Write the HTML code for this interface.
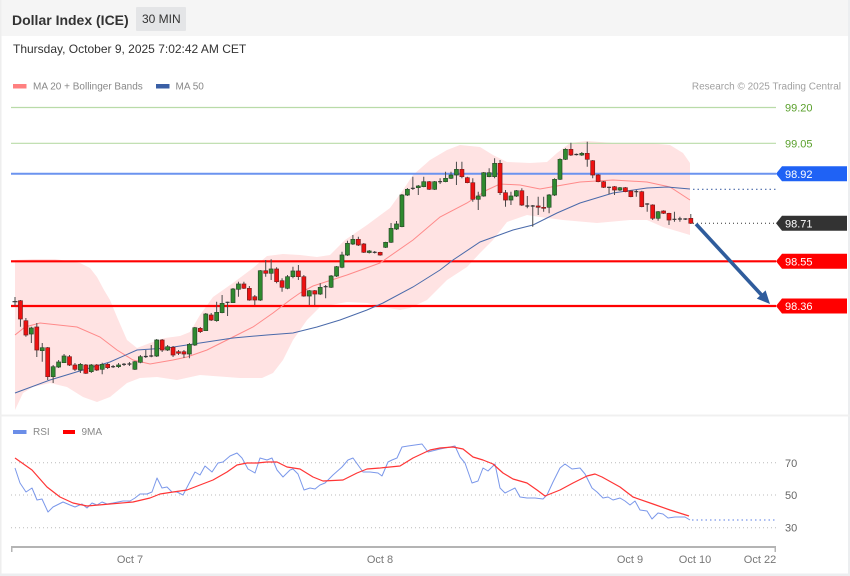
<!DOCTYPE html>
<html><head><meta charset="utf-8"><style>
html,body{margin:0;padding:0;background:#fff;}
svg{display:block;font-family:"Liberation Sans",Arial,sans-serif;}
</style></head><body>
<svg width="850" height="576" viewBox="0 0 850 576" xmlns="http://www.w3.org/2000/svg">
<rect x="0" y="0" width="850" height="576" fill="#fff"/>
<rect x="0" y="0" width="850" height="36" fill="#f5f5f5"/>
<rect x="0" y="0" width="1.5" height="576" fill="#eee"/>
<rect x="848" y="0" width="2" height="576" fill="#eceef0"/>
<rect x="0" y="573.5" width="850" height="2.5" fill="#eceef0"/>
<rect x="0" y="414.5" width="850" height="2" fill="#f0f0f0"/>

<text x="12" y="25" font-size="14" font-weight="bold" fill="#333">Dollar Index (ICE)</text>
<rect x="136" y="7" width="50" height="24" fill="#e4e5e7" rx="1"/>
<text x="142" y="23" font-size="12" fill="#333">30 MIN</text>
<text x="13" y="53" font-size="12" fill="#333">Thursday, October 9, 2025 7:02:42 AM CET</text>

<rect x="13" y="84" width="13.5" height="4.5" fill="#ff8080"/>
<text x="33" y="89.5" font-size="10" fill="#888">MA 20 + Bollinger Bands</text>
<rect x="156" y="84" width="13.5" height="4.5" fill="#3a5fa5"/>
<text x="175.5" y="89.5" font-size="10" fill="#888">MA 50</text>
<text x="841" y="89.5" font-size="10" fill="#a0a0a0" text-anchor="end">Research © 2025 Trading Central</text>

<!-- Bollinger band -->
<polygon fill="#ffe3e3" points="15,260 33,259 55,259 80,263 90,268 97,277 104,290 110,300 117,317 127,340 137,348 150,343 165,338 180,336 190,332 200,315 213,297 233,283 253,268 267,256 283,254 300,255 317,257 330,255 345,240 367,225 390,208 403,190 413,175 430,160 447,150 460,145 480,147 493,155 507,162 530,163 547,162 557,153 570,143 587,141 613,143 647,143 670,145 683,153 690,163 690,235 680,232 663,227 647,220 630,220 597,223 563,220 540,217 527,215 507,222 493,240 480,253 467,267 447,280 427,300 410,308 400,310 383,307 367,303 347,302 320,307 307,320 293,340 283,360 273,373 262,378 240,378 200,375 177,380 157,377 140,378 127,383 110,397 97,402 83,397 67,387 50,383 33,387 23,393 15,410"/>

<!-- horizontal levels -->
<line x1="11" y1="107.5" x2="776" y2="107.5" stroke="#b9dba8" stroke-width="1.2"/>
<line x1="11" y1="143.3" x2="776" y2="143.3" stroke="#b9dba8" stroke-width="1.2"/>
<line x1="11" y1="173.8" x2="776" y2="173.8" stroke="#6b93ef" stroke-width="2"/>
<line x1="11" y1="261.3" x2="776" y2="261.3" stroke="#ff0000" stroke-width="2.2"/>
<line x1="11" y1="306" x2="776" y2="306" stroke="#ff0000" stroke-width="2.2"/>
<line x1="693" y1="223.3" x2="776" y2="223.3" stroke="#333" stroke-width="1" stroke-dasharray="1 3"/>

<!-- MA20 -->
<polyline fill="none" stroke="#ff8a8a" stroke-width="1" points="15,335 25,327 40,323 77,327 100,337 117,350 133,360 150,364 173,360 187,357 207,350 233,337 253,327 273,313 290,300 300,293 313,286 347,275 380,263 413,240 440,217 467,203 487,190 500,184 520,185 540,189 557,186 580,182 613,180 647,182 670,187 690,200"/>
<!-- MA50 -->
<polyline fill="none" stroke="#4a6aaa" stroke-width="1" points="15,393 50,380 83,370 110,362 137,350 167,348 200,343 233,338 267,335 293,333 317,327 340,320 367,310 383,303 413,287 440,270 453,260 480,242 513,230 533,225 557,213 580,203 613,193 647,188 667,187 690,189"/>
<line x1="693" y1="189.3" x2="776" y2="189.3" stroke="#4a6aaa" stroke-width="1.2" stroke-dasharray="1.5 3"/>

<!-- wicks -->
<path fill="none" stroke="#4a4a4a" stroke-width="1" d="M15 297V306M20.45 300V326.7M25.9 318V336.7M31.35 326.7V343M36.8 323V357M42.25 343V361.7M47.7 347V380M53.15 365V383M58.6 360V368M64.05 354V363M69.5 355V366M74.95 363V371M80.4 363V373M85.85 364V374M91.3 364V373M96.75 364V371M102.2 362.7V374.3M107.65 363V369M113.1 365V368M118.55 363V368M124 363V366M129.45 362V366M134.9 361V370M140.35 355V363.3M145.8 350V358M151.25 345V357.3M156.7 339V357M162.15 339V352M167.6 345V351M173.05 346V357M178.5 350V355M183.95 350V358M189.4 343V358.3M194.85 327V346M200.3 327V333M205.75 313V331M211.2 313V321M216.65 301.7V321.7M222.1 295V313.3M227.55 301.7V316M233 288V303M238.45 281.7V296.7M243.9 281.7V289M249.35 286V300.7M254.8 295V305M260.25 270V301M265.7 260V276.7M271.15 259.3V280M276.6 267.3V283.3M282.05 278.3V291.7M287.5 275V289.3M292.95 266.7V278.3M298.4 265V280M303.85 275V296.7M309.3 290V305M314.75 290V305M320.2 283.3V295M325.65 285V298.3M331.1 275V288M336.55 266V277M342 251.7V268.3M347.45 240.7V256M352.9 235V245M358.35 236.7V246M363.8 243V253M369.25 250V253.5M374.7 251V253.5M380.15 251.7V255.7M385.6 241.7V248M391.05 223V243M396.5 221V230M401.95 194V227.3M407.4 188V196M412.85 176.7V190M418.3 185V195M423.75 176.7V187.3M429.2 181V190M434.65 181V190M440.1 178.3V184M445.55 171.7V182.3M451 171.7V179M456.45 161.7V185M461.9 161.7V178.3M467.35 176.7V183.3M472.8 178.3V201.7M478.25 191.7V210M483.7 172V196.7M489.15 168.3V177.3M494.6 158.3V178.3M500.05 160V195M505.5 190V206.7M510.95 191.7V205M516.4 190V197M521.85 188.3V206M527.3 196V208.3M532.75 205V226.7M538.2 196.7V215M543.65 196.7V211.7M549.1 194V213.3M554.55 178.3V196M560 158.3V180M565.45 148.3V160M570.9 142.7V156M576.35 153.5V155.5M581.8 152V156M587.25 141.7V166.7M592.7 160V178.3M598.15 174V182.3M603.6 181V188M609.05 186.7V194.3M614.5 186V195M619.95 187V191M625.4 187V192.3M630.85 190.3V197.3M636.3 190V196.7M641.75 190.7V207.3M647.2 203.3V211.7M652.65 204.3V220M658.1 211V220.7M663.55 210.3V214M669 212.7V225M674.45 211.7V221.7M679.9 216.7V221.7M685.35 218.3V220M690.8 214V224"/>

<!-- green bodies -->
<path fill="#2f8a2f" stroke="#2a4a2a" stroke-width="0.7" d="M29.35 328h4v6h-4zM40.25 347.7h4v3h-4zM51.15 366.7h4v10h-4zM56.6 362h4v5h-4zM62.05 356h4v6.7h-4zM78.4 364.3h4v5.7h-4zM89.3 365h4v6.7h-4zM100.2 364.3h4v5h-4zM116.55 365h4v1.7h-4zM132.9 361.7h4v7.6h-4zM138.35 356.7h4v5.6h-4zM154.7 340h4v16h-4zM165.6 346.7h4v3.3h-4zM187.4 344.3h4v9.7h-4zM192.85 327.7h4v17.3h-4zM203.75 314h4v16.7h-4zM214.65 312.3h4v8.4h-4zM220.1 303.3h4v9.4h-4zM231 289h4v13.7h-4zM236.45 284h4v5.3h-4zM258.25 270.7h4v29.3h-4zM269.15 269h4v4.3h-4zM285.5 276.7h4v11.6h-4zM290.95 271h4v5.7h-4zM307.3 290.7h4v5.3h-4zM318.2 287.3h4v6.7h-4zM329.1 276h4v11.3h-4zM334.55 266.7h4v9.3h-4zM340 255h4v12.3h-4zM345.45 243.3h4v11.7h-4zM350.9 239.3h4v4.7h-4zM367.25 251h4v1.5h-4zM383.6 242.3h4v5h-4zM389.05 228.3h4v14h-4zM394.5 224h4v5h-4zM399.95 195h4v31.7h-4zM405.4 189.3h4v5.7h-4zM416.3 186h4v1.7h-4zM421.75 181.7h4v5h-4zM432.65 181.7h4v7.6h-4zM443.55 178.3h4v3.4h-4zM449 175h4v3.3h-4zM454.45 169.3h4v5.7h-4zM476.25 196h4v3.3h-4zM481.7 172.7h4v23.3h-4zM487.15 172.7h4v4h-4zM492.6 163.3h4v13.4h-4zM508.95 196h4v4h-4zM514.4 190.7h4v5.3h-4zM547.1 195h4v12.3h-4zM552.55 179.3h4v15.7h-4zM558 159.3h4v20h-4zM563.45 149.3h4v10h-4zM579.8 153.3h4v1.7h-4zM617.95 187.7h4v2.3h-4zM656.1 211.7h4v6.6h-4z"/>

<!-- red bodies -->
<path fill="#ee1111" stroke="#7a2020" stroke-width="0.7" d="M18.45 300.7h4v18.3h-4zM23.9 320.7h4v14.3h-4zM34.8 327h4v23h-4zM45.7 347.7h4v29h-4zM67.5 356.7h4v8.3h-4zM72.95 365h4v4.3h-4zM83.85 365h4v8.3h-4zM94.75 365h4v5h-4zM105.65 364.3h4v3.4h-4zM160.15 340h4v10h-4zM171.05 347.3h4v7.7h-4zM176.5 351.7h4v1.6h-4zM181.95 351.7h4v2.3h-4zM198.3 328.3h4v3.4h-4zM209.2 315h4v5h-4zM241.9 284h4v4.3h-4zM247.35 288.3h4v11.7h-4zM252.8 296.7h4v3.3h-4zM263.7 270.7h4v2.6h-4zM274.6 269h4v12.7h-4zM280.05 280.7h4v6.6h-4zM296.4 271h4v5.7h-4zM301.85 276.7h4v19.3h-4zM312.75 290.7h4v3.3h-4zM356.35 239.3h4v5.7h-4zM361.8 244h4v8.3h-4zM378.15 252.3h4v2.7h-4zM427.2 181.7h4v7.6h-4zM459.9 169.3h4v7.4h-4zM465.35 177.7h4v5h-4zM470.8 182.7h4v16.6h-4zM498.05 163.3h4v29.4h-4zM503.5 192.7h4v7.3h-4zM519.85 190.7h4v14.3h-4zM536.2 206h4v1.3h-4zM541.65 207.3h4v1h-4zM568.9 149.3h4v5.7h-4zM585.25 153.3h4v6h-4zM590.7 160.7h4v14.3h-4zM596.15 175h4v6.7h-4zM601.6 181.7h4v5.6h-4zM612.5 186.7h4v3.3h-4zM623.4 187.7h4v4h-4zM628.85 191h4v5.7h-4zM639.75 191.7h4v15h-4zM650.65 205h4v13.3h-4zM661.55 211h4v2.3h-4zM667 213.3h4v6.7h-4zM688.8 218.3h4v5h-4z"/>

<!-- dojis -->
<path fill="none" stroke="#333" stroke-width="1.2" d="M12.5 301.7h5M111.1 366.7h4M122 364.3h4M127.45 364h4M143.8 356.5h4M149.25 356h4M225.55 302.3h4M323.65 286.7h4M372.7 252.3h4M410.85 188.3h4M438.1 181.7h4M525.3 206h4M530.75 206h4M574.35 154.5h4M607.05 187.3h4M634.3 191.7h4M645.2 204h4M672.45 219.3h4M677.9 219h4M683.35 219h4"/>

<!-- arrow -->
<line x1="696" y1="224" x2="762" y2="295.5" stroke="#2f5c9c" stroke-width="3.6"/>
<polygon points="770,304 756.8,298.6 765.6,290.4" fill="#2f5c9c"/>

<!-- price labels -->
<text x="785" y="111.5" font-size="11" fill="#5aa02c">99.20</text>
<text x="785" y="147.3" font-size="11" fill="#5aa02c">99.05</text>
<path d="M776 173.8L782 166.3H847V181.3H782Z" fill="#1f62f5"/>
<text x="785" y="177.8" font-size="11" fill="#fff">98.92</text>
<path d="M776 223.3L782 215.8H847V230.8H782Z" fill="#333"/>
<text x="785" y="227.3" font-size="11" fill="#fff">98.71</text>
<path d="M776 261.3L782 253.8H847V268.8H782Z" fill="#ff0000"/>
<text x="785" y="265.3" font-size="11" fill="#fff">98.55</text>
<path d="M776 306L782 298.5H847V313.5H782Z" fill="#ff0000"/>
<text x="785" y="310" font-size="11" fill="#fff">98.36</text>

<!-- RSI panel -->
<rect x="13" y="430" width="13.5" height="4" fill="#6b8ee8"/>
<text x="33" y="435" font-size="10" fill="#888">RSI</text>
<rect x="63" y="430" width="12" height="4" fill="#ff0000"/>
<text x="81.5" y="435" font-size="10" fill="#888">9MA</text>

<g stroke="#bbb" stroke-width="1" stroke-dasharray="1 3">
<line x1="11" y1="462.7" x2="776" y2="462.7"/>
<line x1="11" y1="495" x2="776" y2="495"/>
<line x1="11" y1="527.7" x2="776" y2="527.7"/>
</g>
<text x="785" y="467" font-size="11" fill="#666">70</text>
<text x="785" y="499" font-size="11" fill="#666">50</text>
<text x="785" y="531.5" font-size="11" fill="#666">30</text>

<polyline fill="none" stroke="#7b98ea" stroke-width="1" stroke-linejoin="round" points="15,468 20,483 26,492 32,488 37,500 42,499 48,512 53,507 63,502 70,505 75,507 82,504 87,508 92,503 97,505 102,502 107,504 113,503 123,501 130,501 135,498 140,494 147,494 152,492 157,478 162,488 167,487 172,492 177,492 183,495 195,472 200,475 205,466 212,472 218,463 223,462 230,456 237,453 242,458 248,469 255,473 260,458 267,460 272,458 277,470 283,477 290,470 293,469 298,474 304,490 310,488 315,489 320,485 325,483 333,475 342,467 348,460 353,458 358,465 363,472 370,472 378,473 382,476 388,462 392,460 397,458 402,447 408,446 422,444 428,452 440,449 450,447 455,446 460,457 465,463 472,483 478,481 483,468 488,471 495,464 500,488 505,493 515,488 520,497 527,498 535,498 543,499 547,495 553,482 560,468 565,464 572,469 580,468 585,474 592,488 597,492 603,498 608,497 613,500 620,498 625,501 630,505 635,501 640,510 647,511 652,519 658,513 663,514 668,518 675,517 685,517 690,520"/>
<line x1="692" y1="520" x2="776" y2="520" stroke="#7b98ea" stroke-width="1.2" stroke-dasharray="1.5 3"/>
<polyline fill="none" stroke="#ff3535" stroke-width="1.2" stroke-linejoin="round" points="15,458 32,470 47,487 60,497 73,503 87,506 110,504 133,502 150,498 160,494 173,492 187,490 200,485 213,480 227,472 237,465 247,463 257,463 267,462 277,462 287,467 300,469 313,477 323,481 343,480 357,473 367,469 380,468 400,466 413,458 430,450 440,448 453,447 463,449 473,457 483,460 493,464 503,473 513,479 527,483 537,490 545,496 560,490 573,483 587,476 595,474 602,477 620,487 633,497 653,504 670,510 689,516"/>

<!-- x axis -->
<rect x="11" y="546" width="765" height="2" fill="#b4b4b4"/>
<rect x="11" y="546" width="1.5" height="6" fill="#b4b4b4"/>
<rect x="774.5" y="546" width="1.5" height="6" fill="#b4b4b4"/>
<g font-size="11" fill="#777" text-anchor="middle">
<text x="130" y="563">Oct 7</text>
<text x="380" y="563">Oct 8</text>
<text x="630" y="563">Oct 9</text>
<text x="695" y="563">Oct 10</text>
<text x="760" y="563">Oct 22</text>
</g>
</svg>
</body></html>
